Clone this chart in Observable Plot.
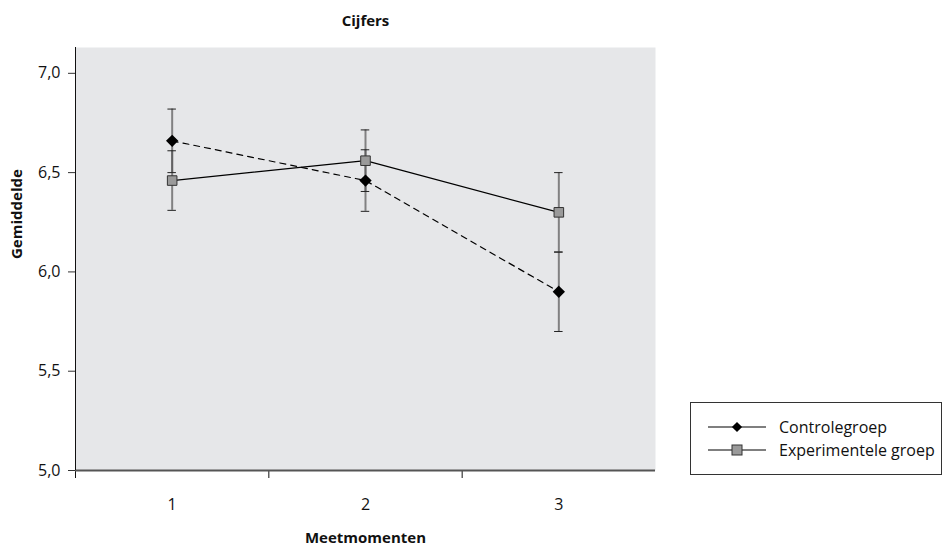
<!DOCTYPE html>
<html><head><meta charset="utf-8">
<script src="https://cdn.jsdelivr.net/npm/d3@7"></script>
<script src="https://cdn.jsdelivr.net/npm/@observablehq/plot@0.6"></script>
<style>
body{margin:0;background:#fff}
#wrap{position:relative;width:943px;height:546px}
#legend{position:absolute;left:690px;top:402px;width:252px;height:73px;border:1px solid #333;box-sizing:border-box;background:#fff}
</style></head><body><div id="wrap"><div id="legend"></div></div>
<script>
const moments = [1, 2, 3];
const xLabels = ["1", "2", "3"];
const controle = [6.66, 6.46, 5.90];
const controleErr = [0.16, 0.155, 0.20];
const experimenteel = [6.46, 6.56, 6.30];
const experimenteelErr = [0.15, 0.155, 0.20];
const yTicks = [5.0, 5.5, 6.0, 6.5, 7.0];
const seriesNames = ["Controlegroep", "Experimentele groep"];

const rows = [];
moments.forEach((m, i) => {
  rows.push({moment: m, groep: seriesNames[0], mean: controle[i], lo: controle[i] - controleErr[i], hi: controle[i] + controleErr[i]});
  rows.push({moment: m, groep: seriesNames[1], mean: experimenteel[i], lo: experimenteel[i] - experimenteelErr[i], hi: experimenteel[i] + experimenteelErr[i]});
});
const caps = rows.flatMap(r => [{moment: r.moment, y: r.lo}, {moment: r.moment, y: r.hi}]);
const ctrl = rows.filter(r => r.groep === seriesNames[0]);
const expe = rows.filter(r => r.groep === seriesNames[1]);
const fmt = d => d.toFixed(1).replace(".", ",");
const font = "'Open Sans', 'Noto Sans', sans-serif";

const chart = Plot.plot({
  width: 943, height: 546,
  marginLeft: 75, marginRight: 288, marginTop: 47, marginBottom: 76,
  style: {fontFamily: font, fontSize: "15px", color: "#111", background: "transparent"},
  x: {type: "linear", domain: [0.5, 3.5]},
  y: {domain: [5, 7.13]},
  marks: [
    Plot.frame({fill: "#e6e7e9", stroke: null}),
    Plot.axisY({ticks: yTicks, tickSize: 7, tickPadding: 8, tickFormat: fmt, label: null, fontSize: 16, stroke: "#333"}),
    Plot.axisX({ticks: [0.5, 1.5, 2.5], tickSize: 8, tickFormat: () => "", label: null, stroke: "#111"}),
    Plot.axisX({ticks: moments, tickSize: 0, tickPadding: 28, tickFormat: d => xLabels[d - 1], label: null, fontSize: 16}),
    Plot.ruleY([5], {stroke: "#555", strokeWidth: 2}),
    Plot.ruleX([0.5], {stroke: "#111"}),
    Plot.ruleX(rows, {x: "moment", y1: "lo", y2: "hi", stroke: "#555", strokeOpacity: 0.7, strokeWidth: 2}),
    Plot.ruleY(caps, {y: "y", x1: d => d.moment - 0.022, x2: d => d.moment + 0.022, stroke: "#222"}),
    Plot.line(ctrl, {x: "moment", y: "mean", stroke: "#000", strokeWidth: 1.2, strokeDasharray: "6,5"}),
    Plot.line(expe, {x: "moment", y: "mean", stroke: "#000", strokeWidth: 1.2}),
    Plot.dot(ctrl, {x: "moment", y: "mean", symbol: "diamond2", r: 4.6, fill: "#000", stroke: "#000"}),
    Plot.dot(expe, {x: "moment", y: "mean", symbol: "square", r: 5.4, fill: "#9a9a9a", stroke: "#333", strokeWidth: 1}),
    Plot.text(["Cijfers"], {frameAnchor: "top", lineAnchor: "middle", dy: -26, fontWeight: "bold", fontSize: 15}),
    Plot.text(["Meetmomenten"], {frameAnchor: "bottom", lineAnchor: "middle", dy: 68, fontWeight: "bold", fontSize: 15}),
    Plot.text(["Gemiddelde"], {frameAnchor: "left", dx: -58, rotate: -90, fontWeight: "bold", fontSize: 15})
  ]
});
document.getElementById("wrap").prepend(chart);

// legend
const lg = d3.select("#legend").append("svg").attr("width", 250).attr("height", 71)
  .style("font-family", font).style("font-size", "16px");
const items = [
  {name: seriesNames[0], sym: "diamond"},
  {name: seriesNames[1], sym: "square"}
];
items.forEach((it, i) => {
  const g = lg.append("g").attr("transform", `translate(0,${24 + i * 23})`);
  g.append("line").attr("x1", 17).attr("x2", 75).attr("y1", 0).attr("y2", 0).attr("stroke", "#000").attr("stroke-width", 1.2);
  if (it.sym === "diamond") {
    g.append("path").attr("d", d3.symbol(d3.symbolDiamond2, Math.PI * 4.6 * 4.6)()).attr("transform", "translate(46,0)").attr("fill", "#000");
  } else {
    g.append("rect").attr("x", 41).attr("y", -5).attr("width", 10).attr("height", 10).attr("fill", "#9a9a9a").attr("stroke", "#333");
  }
  g.append("text").attr("x", 88).attr("y", 0).attr("dy", "0.35em").attr("fill", "#111").text(it.name);
});
</script>
</body></html>
